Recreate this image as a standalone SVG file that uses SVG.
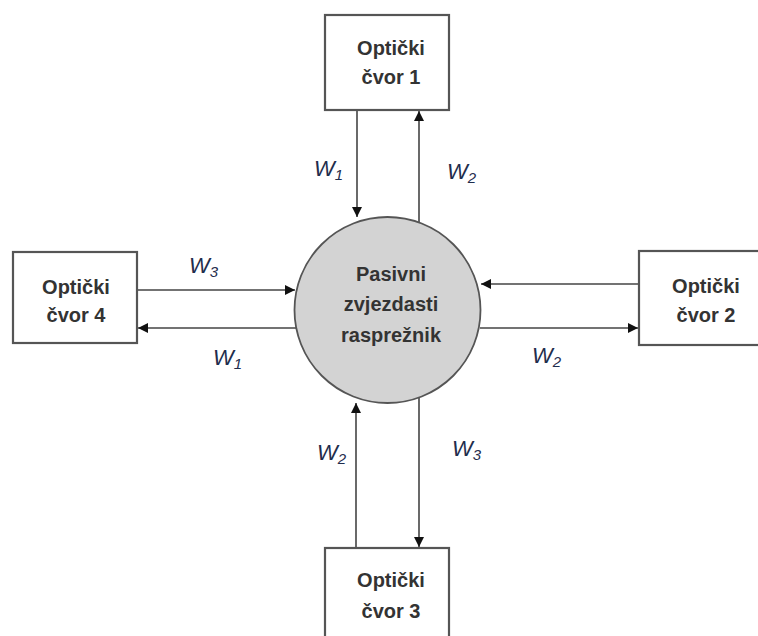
<svg xmlns="http://www.w3.org/2000/svg" width="758" height="636" viewBox="0 0 758 636">
<defs>
<style>
.box{fill:#fff;stroke:#555;stroke-width:2.2}
.hub{fill:#d3d3d3;stroke:#555;stroke-width:1.8}
.t{font-family:"Liberation Sans",Arial,sans-serif;font-weight:bold;font-size:20px;fill:#333;text-anchor:middle}
.w{font-family:"Liberation Sans",Arial,sans-serif;font-style:italic;font-size:22px;fill:#1f2d4d}
.w tspan{font-size:15px}
.ln{stroke:#444;stroke-width:1.6;fill:none}
</style>
<marker id="ah" viewBox="0 0 10 10" refX="10" refY="5" markerWidth="10" markerHeight="10" markerUnits="userSpaceOnUse" orient="auto">
<path d="M0,0 L10,5 L0,10 Z" fill="#111"/>
</marker>
</defs>
<rect width="758" height="636" fill="#fff"/>
<g id="connectors">
<line class="ln" x1="357" y1="110" x2="357" y2="217" marker-end="url(#ah)"/>
<line class="ln" x1="419" y1="222" x2="419" y2="111" marker-end="url(#ah)"/>
<line class="ln" x1="137" y1="290" x2="295" y2="290" marker-end="url(#ah)"/>
<line class="ln" x1="296" y1="328" x2="138" y2="328" marker-end="url(#ah)"/>
<line class="ln" x1="639" y1="284" x2="481" y2="284" marker-end="url(#ah)"/>
<line class="ln" x1="480" y1="328" x2="638" y2="328" marker-end="url(#ah)"/>
<line class="ln" x1="356" y1="548" x2="356" y2="403" marker-end="url(#ah)"/>
<line class="ln" x1="419" y1="398" x2="419" y2="547" marker-end="url(#ah)"/>
<text class="w" x="314" y="176">W<tspan dy="4">1</tspan></text>
<text class="w" x="447" y="179">W<tspan dy="4">2</tspan></text>
<text class="w" x="189" y="273">W<tspan dy="4">3</tspan></text>
<text class="w" x="213" y="365">W<tspan dy="4">1</tspan></text>
<text class="w" x="532" y="363">W<tspan dy="4">2</tspan></text>
<text class="w" x="317" y="460">W<tspan dy="4">2</tspan></text>
<text class="w" x="452" y="456">W<tspan dy="4">3</tspan></text>
</g>
<g id="hub">
<circle class="hub" cx="387.5" cy="310" r="93"/>
<text class="t" x="391" y="281">Pasivni</text>
<text class="t" x="391" y="311">zvjezdasti</text>
<text class="t" x="391" y="342">raspre&#382;nik</text>
</g>
<g id="node1">
<rect class="box" x="325" y="15" width="124" height="95"/>
<text class="t" x="391" y="55">Optički</text>
<text class="t" x="391" y="84">čvor 1</text>
</g>
<g id="node2">
<rect class="box" x="639" y="251" width="125" height="94"/>
<text class="t" x="706" y="293">Optički</text>
<text class="t" x="706" y="322">čvor 2</text>
</g>
<g id="node3">
<rect class="box" x="325" y="548" width="124" height="100"/>
<text class="t" x="391" y="587">Optički</text>
<text class="t" x="391" y="618">čvor 3</text>
</g>
<g id="node4">
<rect class="box" x="13" y="252" width="124" height="91"/>
<text class="t" x="76" y="294">Optički</text>
<text class="t" x="76" y="322">čvor 4</text>
</g>
</svg>
